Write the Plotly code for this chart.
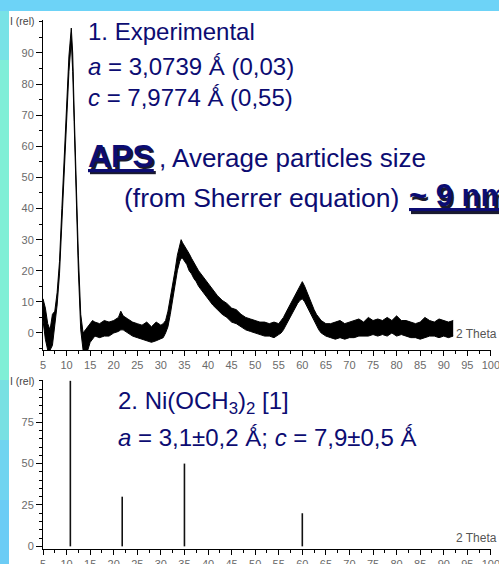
import plotly.graph_objects as go

# ---------------- data ----------------
two_theta = [5.0, 5.5, 6.0, 6.5, 7.0, 7.5, 8.0, 8.5, 9.0, 9.5, 10.0, 10.5, 11.0, 11.3, 11.6,
             12.0, 12.5, 13.0, 13.5, 14.0, 14.5, 15.0, 15.5, 16, 17, 18, 19, 20, 21, 21.5,
             22, 23, 24, 25, 26, 27, 28, 29, 30, 30.5, 31, 31.5, 32, 32.5, 33, 33.5, 34,
             34.3, 34.6, 35, 35.5, 36, 36.5, 37, 37.5, 38, 39, 40, 41, 42, 43, 44, 45, 46,
             47, 48, 49, 50, 51, 52, 53, 54, 55, 55.5, 56, 56.5, 57, 57.5, 58, 58.5, 59,
             59.5, 60, 60.5, 61, 61.5, 62, 62.5, 63, 63.5, 64, 65, 66, 67, 68, 69, 70, 71,
             72, 73, 74, 75, 76, 77, 78, 79, 80, 81, 82, 83, 84, 85, 86, 87, 88, 89, 90,
             91, 92]
# lower / upper edges of the noisy experimental trace (I rel)
i_low = [4, -2, -5.5, -5.5, -4, 2, 9, 19, 36, 54, 72, 84, 94, 84, 68,
         45, 20, 1, -5.5, -5.5, -5.5, -3, -2, -1, -1.5, -1, -1, 0, 0.5, 1,
         1, 0, -1, -1.5, -2, -2.5, -3, -2.5, -2, -1.5, 0, 2, 6, 11, 16, 20, 23,
         24, 24, 23, 22, 20, 19, 17.5, 16.5, 15, 13, 11, 9, 7.5, 6, 5, 3.5, 3,
         2, 1, 0.5, 0, -0.5, -1, -1, -1.5, -0.5, 0, 1, 2.5, 3.5, 5, 6.5, 8, 9.5,
         10.5, 11, 10, 8.5, 6.5, 5, 3.5, 2, 1, 0, -1, -1.5, -2, -1.5, -2, -1.5, -1.5,
         -1, -1, -1, -0.5, -1, -0.5, -1, 0, -1, -0.5, -1, -1.5, -1.5, -2, -1.5, -1, -1, -1.5, -1,
         -1.5, -1]
i_high = [11, 8, 3, 1, 6, 7, 13, 23, 40, 58, 76, 89, 98, 90, 72,
          49, 25, 6, 0, 1, 2, 3, 4, 3.5, 3, 4, 3.5, 4, 5, 7,
          5.5, 4.5, 3.5, 3, 2.5, 3.5, 2, 3.5, 2.5, 3, 4, 7, 11, 16, 20, 25, 28,
          30, 29, 28, 27, 25.5, 24, 22.5, 21, 20, 18, 16, 14, 12, 10.5, 9.5, 8, 7.5,
          6, 5, 4.5, 4, 3.5, 3.5, 3, 3.5, 3, 4, 5, 6.5, 8, 9.5, 11, 12.5, 14,
          15.5, 16.5, 15, 13, 11, 9, 7.5, 6, 5, 4, 3, 3, 3.5, 4, 3, 3.5, 4,
          4.5, 3.5, 5, 4, 4.5, 4, 5, 4, 5.5, 4, 4, 3.5, 3, 3.5, 5, 4, 3.5, 4.5, 4,
          3.5, 4]

# reference Ni(OCH3)2 lines
ref_pos = [10.8, 21.8, 35.0, 60.0]
ref_int = [100, 30, 50, 20]

x_ticks = [5, 10, 15, 20, 25, 30, 35, 40, 45, 50, 55, 60, 65, 70, 75, 80, 85, 90, 95, 100]
y1_ticks = [0, 10, 20, 30, 40, 50, 60, 70, 80, 90]
y2_ticks = [0, 25, 50, 75]

# ---------------- layout helpers ----------------
W, H = 499, 564
def fx(p):
    return p / W
def fy(p):
    return 1 - p / H

NAVY = "#0c0c72"
SHADOW = "#1a1a30"
FONT = "Liberation Sans, Arial, sans-serif"
TICKC = "#6a6a6a"

fig = go.Figure()

fig.add_trace(go.Scatter(x=two_theta, y=i_low, mode="lines",
                         line=dict(color="black", width=1), xaxis="x", yaxis="y",
                         hoverinfo="skip", showlegend=False))
fig.add_trace(go.Scatter(x=two_theta, y=i_high, mode="lines", fill="tonexty",
                         fillcolor="black", line=dict(color="black", width=1),
                         xaxis="x", yaxis="y", hoverinfo="skip", showlegend=False))

bx, by = [], []
for p, h in zip(ref_pos, ref_int):
    bx += [p, p, None]
    by += [0, h, None]
fig.add_trace(go.Scatter(x=bx, y=by, mode="lines", line=dict(color="#111111", width=1.6),
                         xaxis="x2", yaxis="y2", hoverinfo="skip", showlegend=False))

axis_common = dict(showline=True, linecolor="black", linewidth=1, ticks="outside",
                   tickcolor="black", tickwidth=1, showgrid=False, zeroline=False,
                   automargin=False, ticklabeloverflow="allow",
                   tickfont=dict(family=FONT, size=11, color=TICKC))

fig.update_layout(
    width=W, height=H, margin=dict(l=0, r=0, t=0, b=0),
    paper_bgcolor="white", plot_bgcolor="rgba(0,0,0,0)",
    xaxis=dict(domain=[fx(43), fx(491)], range=[5, 100.02], anchor="y", tickvals=x_ticks,
               ticklen=5,
               minor=dict(tick0=5, dtick=2.5, ticklen=3, ticks="outside", tickcolor="black"),
               **axis_common),
    yaxis=dict(domain=[fy(350), fy(20)], range=[-5.47, 100.6], anchor="x",
               tickvals=y1_ticks, ticklen=6,
               minor=dict(tick0=0, dtick=5, ticklen=3, ticks="outside", tickcolor="black"),
               **axis_common),
    xaxis2=dict(domain=[fx(43), fx(491)], range=[5, 100.02], anchor="y2", tickvals=x_ticks,
                ticklen=5,
                minor=dict(tick0=5, dtick=2.5, ticklen=3, ticks="outside", tickcolor="black"),
                **axis_common),
    yaxis2=dict(domain=[fy(549), fy(380)], range=[-1.6, 100.5], anchor="x2",
                tickvals=y2_ticks, ticklen=6,
                minor=dict(tick0=0, dtick=5, ticklen=3, ticks="outside", tickcolor="black"),
                **axis_common),
)

# ---------------- background frame ----------------
shapes = []
stripe = [(11, "#72d6f2"), (60, "#78e2e6"), (110, "#80eed8"), (380, "#80efd6"),
          (440, "#78e0e2"), (500, "#70d4f0"), (564, "#6cccf5")]
prev_y = 11
for yb, c in stripe:
    if yb > prev_y:
        shapes.append(dict(type="rect", xref="paper", yref="paper", x0=0, x1=fx(9),
                           y0=fy(yb), y1=fy(prev_y), fillcolor=c, line=dict(width=0),
                           layer="below"))
    prev_y = yb
shapes.append(dict(type="rect", xref="paper", yref="paper", x0=0, x1=1, y0=fy(11), y1=1,
                   fillcolor="#6dd3f7", line=dict(width=0), layer="below"))
fig.update_layout(shapes=shapes)

# ---------------- texts ----------------
ann = []
def txt(x, yc, s, size, color=NAVY, anchor="left"):
    ann.append(dict(xref="paper", yref="paper", x=fx(x), y=fy(yc), text=s, showarrow=False,
                    xanchor=anchor, yanchor="middle",
                    font=dict(family=FONT, size=size, color=color)))

# small axis texts
txt(8, 21, "I (rel)", 10.5, "#444444")
txt(8, 381, "I (rel)", 10.5, "#444444")
txt(454, 334, "2 Theta", 12, "#555555")
txt(454, 538, "2 Theta", 12, "#555555")

S = 24
txt(86, 32, "1. Experimental", S)
txt(86, 66, "<i>a</i> = 3,0739 Ǻ (0,03)", S)
txt(86, 97, "<i>c</i> = 7,9774 Ǻ (0,55)", S)
# APS with shadow
txt(88, 158, "<b><u>APS</u></b>", 32, SHADOW)
txt(86, 156, "<b><u>APS</u></b>", 32)
txt(157, 158, ", Average particles size", 26)
txt(122, 198, "(from Sherrer equation)", 26.5)
txt(409, 198, "<b><u>~ 9 nm</u></b>", 31, SHADOW)
txt(407, 196, "<b><u>~ 9 nm</u></b>", 31)

txt(116, 402, "2. Ni(OCH<sub>3</sub>)<sub>2</sub> [1]", S)
txt(116, 437, "<i>a</i> = 3,1±0,2 Ǻ; <i>c</i> = 7,9±0,5 Ǻ", S)

fig.update_layout(annotations=ann)

fig.write_html("out.html")
